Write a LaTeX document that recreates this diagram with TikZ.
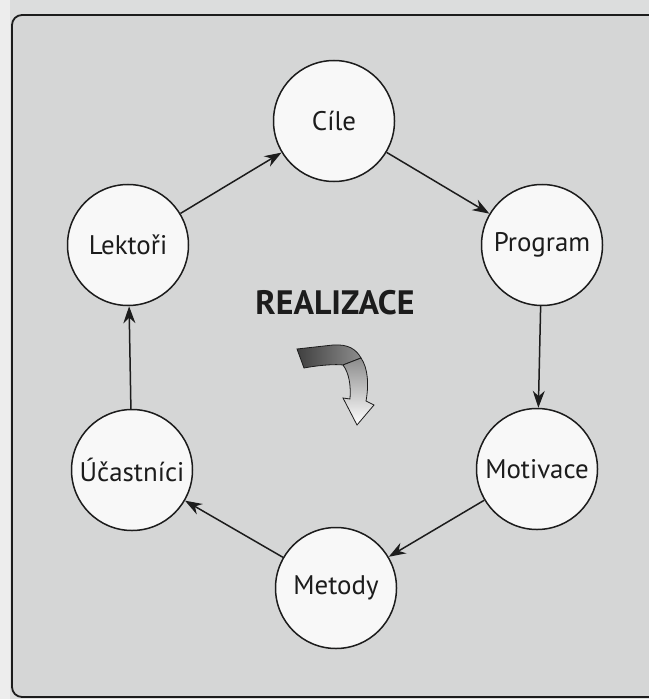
\documentclass[tikz,border=0pt]{standalone}
\usepackage{fontspec}
\setmainfont{PT Sans}
\usetikzlibrary{arrows.meta,shadings}
\definecolor{pagegray}{HTML}{DCDDDD}
\definecolor{stripwhite}{HTML}{EDEDED}
\definecolor{boxgray}{HTML}{D5D6D6}
\definecolor{ink}{HTML}{1C1C1C}
\definecolor{disc}{HTML}{F8F8F8}
\tikzset{
  stage/.style={circle, draw=ink, line width=1.5bp, fill=disc, minimum size=121bp,
    inner sep=0pt, font=\fontsize{27}{30}\selectfont, text=ink},
  flow/.style={draw=ink, line width=1.5bp, -{Stealth[length=17bp,width=12bp]}},
  frame/.style={draw=ink, line width=1.8bp, rounded corners=10bp, fill=boxgray},
  title/.style={font=\bfseries\fontsize{34}{38}\selectfont, text=ink}
}
\begin{document}
\begin{tikzpicture}[x=1bp,y=-1bp]
\useasboundingbox (0,0) rectangle (649,699);
% paper and the framed panel
\fill[pagegray] (0,0) rectangle (649,699);
\fill[stripwhite] (0,0) rectangle (10,699);
\path[frame] (12,15) rectangle (680,697);

% the six stages of the cycle
\node[stage] (cile) at (334,121) {Cíle};
\node[stage] (prog) at (542,245) {Program};
\node[stage] (moti) at (537,469) {Motivace};
\node[stage] (meto) at (336,588) {Metody};
\node[stage] (ucas) at (132,470) {Účastníci};
\node[stage] (lekt) at (128,245) {Lektoři};

% clockwise connectors
\draw[flow] (cile) -- (prog);
\draw[flow] (prog) -- (moti);
\draw[flow] (moti) -- (meto);
\draw[flow] (meto) -- (ucas);
\draw[flow] (ucas) -- (lekt);
\draw[flow] (lekt) -- (cile);

% centre label
\node[title] (real) at (335,303) {REALIZACE};

% twisted ribbon arrow below the label
\shade[left color=black!75, right color=black!45, draw=ink, line width=0.8bp]
  (297,349) -- (333,345) .. controls (348,344) and (356,349) .. (361,358)
  -- (343,365) .. controls (336,364) and (320,365) .. (304,368) -- cycle;
\shade[top color=black!45, bottom color=white, draw=ink, line width=0.8bp]
  (343,365) -- (361,358) .. controls (368,368) and (369,385) .. (366,401)
  -- (374,405) -- (357,425) -- (343,398) -- (350,399)
  .. controls (351,385) and (349,373) .. (343,365) -- cycle;
\end{tikzpicture}
\end{document}
